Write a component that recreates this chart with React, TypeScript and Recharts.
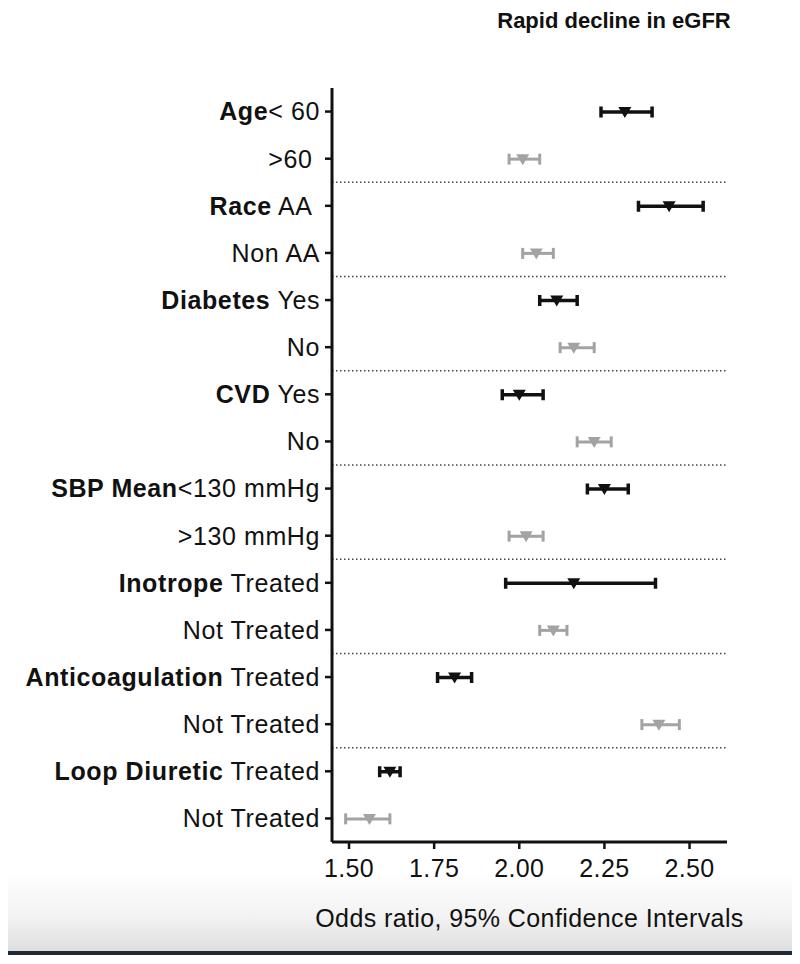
import { ComposedChart, Bar, XAxis, YAxis, ReferenceLine } from 'recharts'

const rowIds = ['r0', 'r1', 'r2', 'r3', 'r4', 'r5', 'r6', 'r7', 'r8', 'r9', 'r10', 'r11', 'r12', 'r13', 'r14', 'r15']
const rowGroup = ['Age', '', 'Race', '', 'Diabetes', '', 'CVD', '', 'SBP Mean', '', 'Inotrope', '', 'Anticoagulation', '', 'Loop Diuretic', '']
const rowLevel = ['< 60', '>60\u00a0', ' AA\u00a0', 'Non AA', ' Yes', 'No', ' Yes', 'No', '<130 mmHg', '>130 mmHg', ' Treated', 'Not Treated', ' Treated', 'Not Treated', ' Treated', 'Not Treated']

const oddsRatio = [2.31, 2.01, 2.44, 2.05, 2.11, 2.16, 2.0, 2.22, 2.25, 2.02, 2.16, 2.1, 1.81, 2.41, 1.62, 1.56]
const ciLow = [2.24, 1.97, 2.35, 2.01, 2.06, 2.12, 1.95, 2.17, 2.2, 1.97, 1.96, 2.06, 1.76, 2.36, 1.59, 1.49]
const ciHigh = [2.39, 2.06, 2.54, 2.1, 2.17, 2.22, 2.07, 2.27, 2.32, 2.07, 2.4, 2.14, 1.86, 2.47, 1.65, 1.62]

const xTicks = [1.5, 1.75, 2.0, 2.25, 2.5]
// dotted separator below the last row of each group
const separatorRows = ['r1', 'r3', 'r5', 'r7', 'r9', 'r11', 'r13']

const rows = rowIds.map((id, i) => ({ id, or: oddsRatio[i], ci: [ciLow[i], ciHigh[i]] }))

const FONT = '"Liberation Sans", Arial, sans-serif'

function RowTick({ x, y, payload }: any) {
  const i = rowIds.indexOf(payload.value)
  return (
    <text x={x} y={y} dy="0.355em" textAnchor="end" fontSize={25} fontFamily={FONT} fill="#111" letterSpacing={0.6}>
      <tspan fontWeight="bold">{rowGroup[i]}</tspan>
      <tspan>{rowLevel[i]}</tspan>
    </text>
  )
}

function CiShape(props: any) {
  const { x, y, width, height, payload } = props
  const i = rowIds.indexOf(payload.id)
  const color = i % 2 === 0 ? '#111' : '#a3a3a3'
  const sw = i % 2 === 0 ? 3.5 : 3
  const cy = y + height / 2
  const [lo, hi] = payload.ci
  const mx = x + ((payload.or - lo) / (hi - lo)) * width
  return (
    <g>
      <line x1={x} x2={x + width} y1={cy} y2={cy} stroke={color} strokeWidth={sw} />
      <line x1={x} x2={x} y1={cy - 5.5} y2={cy + 5.5} stroke={color} strokeWidth={sw} />
      <line x1={x + width} x2={x + width} y1={cy - 5.5} y2={cy + 5.5} stroke={color} strokeWidth={sw} />
      <polygon points={`${mx - 6.5},${cy - 5} ${mx + 6.5},${cy - 5} ${mx},${cy + 6}`} fill={color} />
    </g>
  )
}

export default function App() {
  return (
    <div style={{ position: 'relative', width: 784, height: 948, fontFamily: FONT }}>
      <div
        style={{
          position: 'absolute', left: 0, top: 864, width: 786, height: 79,
          background: 'linear-gradient(to bottom, #ffffff 0%, #f3f3f3 55%, #dedede 100%)',
          borderBottom: '4px solid #1f2a36',
        }}
      />
      <div
        style={{
          position: 'absolute', left: 456, top: 1, width: 300, textAlign: 'center',
          fontSize: 22, lineHeight: '24px', fontWeight: 'bold', color: '#111',
        }}
      >
        Rapid decline in eGFR
      </div>
      <div style={{ position: 'relative' }}>
        <ComposedChart
          width={784}
          height={940}
          data={rows}
          layout="vertical"
          margin={{ top: 80, right: 65, bottom: 16, left: 0 }}
        >
          <XAxis
            type="number"
            domain={[1.45, 2.61]}
            ticks={xTicks}
            allowDataOverflow
            tickFormatter={(v: number) => v.toFixed(2)}
            tick={{ fontSize: 25, fill: '#111', fontFamily: FONT, letterSpacing: 0.4 }}
            tickSize={7}
            tickMargin={10}
            height={90}
            axisLine={{ stroke: '#111', strokeWidth: 3 }}
            tickLine={{ stroke: '#111', strokeWidth: 2.5 }}
            label={{
              value: 'Odds ratio, 95% Confidence Intervals',
              position: 'insideBottom',
              offset: 5,
              fontSize: 25,
              fill: '#111',
              fontFamily: FONT,
              letterSpacing: 0.4,
            }}
          />
          <YAxis
            type="category"
            dataKey="id"
            width={324}
            tick={<RowTick />}
            tickSize={7}
            tickMargin={5}
            interval={0}
            axisLine={{ stroke: '#111', strokeWidth: 3 }}
            tickLine={{ stroke: '#111', strokeWidth: 2.5 }}
          />
          {separatorRows.map((r) => (
            <ReferenceLine key={r} y={r} position="end" stroke="#444" strokeWidth={1.5} strokeDasharray="1.5 2.5" />
          ))}
          <Bar dataKey="ci" barSize={12} isAnimationActive={false} shape={(p: any) => <CiShape {...p} />} />
        </ComposedChart>
      </div>
    </div>
  )
}
